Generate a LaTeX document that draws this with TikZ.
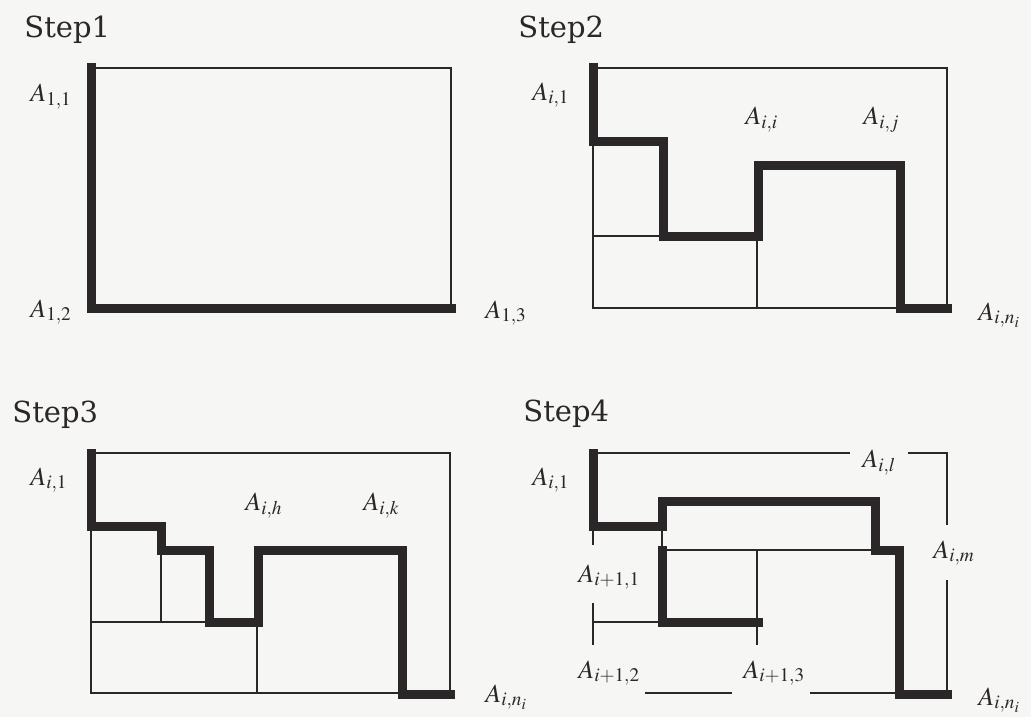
\documentclass[tikz,border=0pt]{standalone}
\usepackage{mathptmx}
\usepackage[no-math]{fontspec}
\setmainfont{DejaVu Serif}
\usepackage{tikz}
\definecolor{inkdark}{HTML}{2B2628}
\definecolor{paper}{HTML}{F6F6F4}

\begin{document}
\begin{tikzpicture}[x=0.5pt, y=-0.5pt,
  wall/.style={draw=inkdark, line width=4.5pt, line cap=rect},
  edge/.style={draw=inkdark, line width=0.6pt},
  steptitle/.style={anchor=base west, inner sep=0pt, text=inkdark, font=\fontsize{14.5}{16}\selectfont},
  lbl/.style={anchor=base west, inner sep=0pt, text=inkdark, font=\fontsize{13}{15}\selectfont}]
\useasboundingbox[fill=paper] (0,0) rectangle (1031,717);
% Step 1
\node[steptitle] (t1) at (24,38) {Step1};
\draw[edge] (91,68) rectangle (451,308);
\draw[wall] (91,68) -- (91,308) -- (451,308);
\node[lbl] (a11) at (30,102) {$A_{1,1}$};
\node[lbl] (a12) at (30,317) {$A_{1,2}$};
\node[lbl] (a13) at (485,318) {$A_{1,3}$};
% Step 2
\node[steptitle] (t2) at (518,38) {Step2};
\draw[edge] (593,68) rectangle (947,308);
\draw[edge] (593,236) -- (663,236);
\draw[edge] (757,236) -- (757,308);
\draw[wall] (593,68) |- (663,141) |- (758,236) |- (900,165) |- (947,308);
\node[lbl] (b1) at (532,100) {$A_{i,1}$};
\node[lbl] (bi) at (745,125) {$A_{i,i}$};
\node[lbl] (bj) at (863,125) {$A_{i,j}$};
\node[lbl] (bn) at (978,320) {$A_{i,n_i}$};
% Step 3
\node[steptitle] (t3) at (12,422) {Step3};
\draw[edge] (91,453) rectangle (450,693);
\draw[edge] (161,550) -- (161,622);
\draw[edge] (91,622) -- (209,622);
\draw[edge] (257,622) -- (257,693);
\draw[wall] (91,453) |- (161,526) |- (209,550) |- (258,622) |- (402,550) |- (450,694);
\node[lbl] (c1) at (30,485) {$A_{i,1}$};
\node[lbl] (ch) at (245,510) {$A_{i,h}$};
\node[lbl] (ck) at (363,510) {$A_{i,k}$};
\node[lbl] (cn) at (485,702) {$A_{i,n_i}$};
% Step 4
\node[steptitle] (t4) at (523,421) {Step4};
\draw[edge] (593,453) -- (850,453);
\draw[edge] (908,453) -- (947,453) -- (947,525);
\draw[edge] (947,580) -- (947,693);
\draw[edge] (593,526) -- (593,545);
\draw[edge] (593,603) -- (593,645);
\draw[edge] (593,622) -- (662,622);
\draw[edge] (662,526) -- (662,550) -- (875,550);
\draw[edge] (757,550) -- (757,645);
\draw[edge] (645,693) -- (732,693);
\draw[edge] (810,693) -- (899,693);
\draw[wall] (593,453) |- (662,526) |- (875,501) |- (899,550) |- (947,694);
\draw[wall] (662,550) |- (758,622);
\node[lbl] (d1) at (532,485) {$A_{i,1}$};
\node[lbl] (dl) at (862,467) {$A_{i,l}$};
\node[lbl] (dm) at (933,558) {$A_{i,m}$};
\node[lbl] (e1) at (578,582) {$A_{i+1,1}$};
\node[lbl] (e2) at (578,678) {$A_{i+1,2}$};
\node[lbl] (e3) at (743,678) {$A_{i+1,3}$};
\node[lbl] (dn) at (978,705) {$A_{i,n_i}$};
\end{tikzpicture}
\end{document}
